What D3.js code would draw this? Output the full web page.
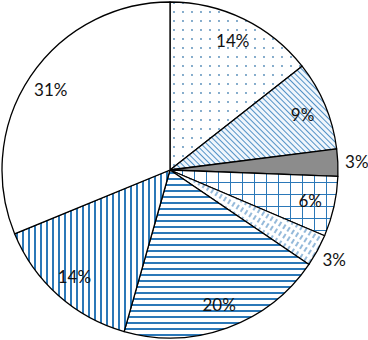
<!DOCTYPE html>
<html lang="en">

<head>
    <meta charset="UTF-8">
    <title>Pie with pattern fills</title>
    <style>
        body { margin: 0; background: #fff; }
    </style>
</head>

<body>
    <script src="https://cdn.jsdelivr.net/npm/d3@7"></script>
    <script>
        const svg_w = 368;
        const svg_h = 340;

        // slice values (percent), read clockwise from 12 o'clock
        const values = [14.4, 8.6, 2.6, 5.8, 3.1, 19.9, 14.4, 31.2];
        const labels = ['14%', '9%', '3%', '6%', '3%', '20%', '14%', '31%'];
        const fills = ['dots', 'hatch', 'gray', 'grid', 'dash', 'hlines', 'vlines', 'white'];

        const blue = '#2b78b8';
        const cx = 170, cy = 170, radius = 168;

        const svg = d3.select('body')
            .append('svg')
            .attr('width', svg_w)
            .attr('height', svg_h);

        const defs = svg.append('defs');

        function makePattern(id, w, h) {
            const p = defs.append('pattern')
                .attr('id', id)
                .attr('patternUnits', 'userSpaceOnUse')
                .attr('width', w)
                .attr('height', h);
            p.append('rect').attr('width', w).attr('height', h).attr('fill', '#fff');
            return p;
        }

        // dotted
        let p = makePattern('dots', 9, 9);
        p.append('circle').attr('cx', 4).attr('cy', 4).attr('r', 0.9).attr('fill', '#4d86b5');

        // dense diagonal hatch, running down to the right
        p = makePattern('hatch', 4, 4).attr('patternTransform', 'rotate(-45)');
        p.select('rect').attr('fill', '#f0f6fc');
        p.append('line').attr('x1', 0).attr('y1', 0).attr('x2', 0).attr('y2', 4)
            .attr('stroke', blue).attr('stroke-width', 1.6);

        // grid
        p = makePattern('grid', 12, 12);
        p.append('path').attr('d', 'M0,0H12M0,0V12')
            .attr('stroke', blue).attr('stroke-width', 2).attr('fill', 'none');

        // short light dashes, leaning right
        p = makePattern('dash', 5, 8).attr('patternTransform', 'rotate(32)');
        p.append('line').attr('x1', 2).attr('y1', 1).attr('x2', 2).attr('y2', 6)
            .attr('stroke', '#4f8cc2').attr('stroke-width', 1.2);

        // horizontal lines
        p = makePattern('hlines', 6, 6);
        p.append('line').attr('x1', 0).attr('y1', 3).attr('x2', 6).attr('y2', 3)
            .attr('stroke', blue).attr('stroke-width', 2);

        // vertical lines
        p = makePattern('vlines', 6, 6);
        p.append('line').attr('x1', 3).attr('y1', 0).attr('x2', 3).attr('y2', 6)
            .attr('stroke', blue).attr('stroke-width', 2);

        const fillFor = f => f === 'gray' ? '#8c8c8c' : (f === 'white' ? '#fff' : 'url(#' + f + ')');

        const pie = d3.pie().sort(null).value(d => d);
        const arcs = pie(values);

        const arc = d3.arc().innerRadius(0).outerRadius(radius);
        const labelArc = d3.arc().innerRadius(radius * 0.855).outerRadius(radius * 0.855);
        const outerArc = d3.arc().innerRadius(radius + 19).outerRadius(radius + 19);

        const g = svg.append('g').attr('transform', `translate(${cx},${cy})`);

        g.selectAll('path.slice')
            .data(arcs)
            .enter()
            .append('path')
            .attr('class', 'slice')
            .attr('d', arc)
            .attr('fill', (d, i) => fillFor(fills[i]))
            .attr('stroke', '#000')
            .attr('stroke-width', 1.3)
            .attr('stroke-linejoin', 'round');

        g.selectAll('text')
            .data(arcs)
            .enter()
            .append('text')
            .attr('transform', d => {
                const c = d.value < 4 ? outerArc.centroid(d) : labelArc.centroid(d);
                return `translate(${c[0]},${c[1]})`;
            })
            .attr('text-anchor', 'middle')
            .attr('dy', '0.36em')
            .style('font-family', 'Lato, "Noto Sans", sans-serif')
            .style('font-size', '17px')
            .attr('fill', '#111')
            .text((d, i) => labels[i]);
    </script>
</body>

</html>
